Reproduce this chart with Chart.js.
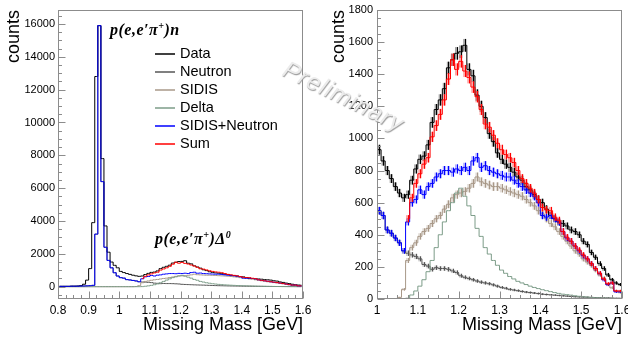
<!DOCTYPE html>
<html>
<head>
<meta charset="utf-8">
<title>Missing mass</title>
<script src="https://cdn.jsdelivr.net/npm/chart.js@4.4.1/dist/chart.umd.min.js"></script>
<style>
  html, body { margin: 0; padding: 0; background: #fff; }
  #page { position: relative; width: 628px; height: 340px; overflow: hidden; }
  #page canvas { position: absolute; top: 0; }
  #leftChart { left: 0; }
  #rightChart { left: 314px; }
  .reaction { position: absolute; font: bold italic 16px "Liberation Serif", serif; white-space: nowrap; line-height: 16px; letter-spacing: 0.5px; }
  .reaction sup { font-size: 10px; vertical-align: 6px; line-height: 0; }
  #legend { position: absolute; left: 155px; top: 44px; font: 14.5px "Liberation Sans", Arial, sans-serif; }
  #legend div { height: 18px; line-height: 18px; white-space: nowrap; }
  #legend span { display: inline-block; width: 20px; height: 0; border-top: 2px solid; vertical-align: middle; margin-right: 5px; opacity: .75; }
  #watermark { position: absolute; left: 291px; top: 55px; font: italic 24px "Liberation Sans", Arial, sans-serif; color: #ececec; letter-spacing: 1px; transform: rotate(26deg); transform-origin: 0 0; text-shadow: 1px 1px 1px #9a9a9a; white-space: nowrap; }
</style>
</head>
<body>
<div id="page">
  <canvas id="leftChart" width="314" height="340"></canvas>
  <canvas id="rightChart" width="314" height="340"></canvas>
  <div class="reaction" style="left:110px; top:22px;">p(e,e′π<sup>+</sup>)n</div>
  <div class="reaction" style="left:155px; top:231px;">p(e,e′π<sup>+</sup>)Δ<sup>0</sup></div>
  <div id="legend"></div>
  <div id="watermark">Preliminary</div>
</div>
<script>
// bin centres, 0.01 GeV bins from 0.8 to 1.6
const mass = [
  0.805, 0.815, 0.825, 0.835, 0.845, 0.855, 0.865, 0.875, 0.885, 0.895,
  0.905, 0.915, 0.925, 0.935, 0.945, 0.955, 0.965, 0.975, 0.985, 0.995,
  1.005, 1.015, 1.025, 1.035, 1.045, 1.055, 1.065, 1.075, 1.085, 1.095,
  1.105, 1.115, 1.125, 1.135, 1.145, 1.155, 1.165, 1.175, 1.185, 1.195,
  1.205, 1.215, 1.225, 1.235, 1.245, 1.255, 1.265, 1.275, 1.285, 1.295,
  1.305, 1.315, 1.325, 1.335, 1.345, 1.355, 1.365, 1.375, 1.385, 1.395,
  1.405, 1.415, 1.425, 1.435, 1.445, 1.455, 1.465, 1.475, 1.485, 1.495,
  1.505, 1.515, 1.525, 1.535, 1.545, 1.555, 1.565, 1.575, 1.585, 1.595
];
const binWidth = 0.01;

const dataCounts = [
  20, 20, 20, 20, 30, 30, 40, 60, 150, 400,
  1100, 3900, 12800, 15900, 7800, 3700, 2100, 1500, 1300, 1150,
  930, 860, 800, 750, 700, 660, 630, 650, 740, 810,
  870, 890, 960, 1100, 1180, 1240, 1310, 1440, 1490, 1530,
  1540, 1580, 1430, 1390, 1270, 1200, 1130, 1030, 980, 910,
  870, 840, 820, 790, 760, 740, 700, 680, 650, 620,
  600, 560, 520, 500, 480, 470, 455, 430, 420, 400,
  360, 340, 290, 260, 220, 190, 150, 120, 100, 90
];
const neutronCounts = [
  20, 20, 20, 20, 30, 30, 30, 40, 40, 50,
  60, 80, 3200, 15900, 6400, 2400, 1600, 1150, 850, 650,
  550, 520, 430, 410, 380, 350, 300, 285, 275, 265,
  250, 215, 205, 185, 195, 190, 190, 185, 175, 165,
  145, 135, 128, 120, 112, 105, 100, 95, 88, 80,
  72, 67, 60, 56, 52, 47, 43, 40, 37, 34,
  30, 28, 26, 24, 22, 20, 18, 16, 14, 13,
  12, 11, 10, 9, 8, 7, 7, 6, 5, 5
];
const sidisCounts = [
  0, 0, 0, 0, 0, 0, 0, 0, 0, 0,
  0, 0, 0, 0, 0, 0, 0, 0, 0, 0,
  0, 0, 0, 0, 0, 10, 60, 240, 320, 350,
  390, 420, 440, 470, 500, 520, 560, 590, 630, 650,
  660, 670, 690, 720, 760, 730, 720, 710, 700, 700,
  690, 680, 670, 660, 650, 640, 620, 600, 580, 550,
  530, 500, 470, 450, 420, 390, 360, 330, 300, 280,
  250, 230, 210, 180, 150, 130, 90, 70, 50, 40
];
const deltaCounts = [
  0, 0, 0, 0, 0, 0, 0, 0, 0, 0,
  0, 0, 0, 0, 0, 0, 0, 0, 0, 0,
  0, 0, 0, 0, 0, 0, 0, 5, 25, 50,
  80, 120, 170, 240, 320, 400, 480, 550, 600, 660,
  690, 640, 580, 520, 440, 390, 320, 280, 240, 210,
  180, 160, 140, 125, 110, 100, 90, 80, 72, 65,
  58, 52, 46, 40, 35, 30, 27, 24, 20, 17,
  14, 12, 10, 8, 7, 6, 5, 4, 3, 3
];
const sidisNeutronCounts = [
  20, 20, 20, 20, 30, 30, 30, 40, 40, 50,
  60, 80, 3200, 15900, 6400, 2400, 1600, 1150, 850, 650,
  550, 520, 430, 410, 380, 350, 300, 480, 600, 620,
  680, 650, 700, 720, 760, 780, 800, 800, 790, 810,
  800, 820, 800, 860, 880, 820, 830, 800, 790, 780,
  770, 760, 760, 740, 720, 700, 680, 660, 640, 600,
  520, 510, 520, 500, 480, 420, 380, 360, 330, 300,
  270, 250, 220, 190, 160, 120, 90, 100, 45, 45
];
const sumCounts = [
  null, null, null, null, null, null, null, null, null, null,
  null, null, null, null, null, null, null, null, null, null,
  null, null, null, null, null, null, null, 500, 630, 720,
  780, 840, 880, 1010, 1080, 1150, 1240, 1370, 1490, 1430,
  1480, 1420, 1380, 1320, 1260, 1180, 1090, 1070, 1020, 970,
  930, 900, 880, 850, 800, 750, 720, 690, 660, 620,
  570, 555, 550, 510, 490, 420, 385, 360, 330, 305,
  275, 250, 220, 190, 160, 125, 95, 100, 50, 50
];

const seriesNames = ['Data', 'Neutron', 'SIDIS', 'Delta', 'SIDIS+Neutron', 'Sum'];
const seriesCounts = [dataCounts, neutronCounts, sidisCounts, deltaCounts, sidisNeutronCounts, sumCounts];
const seriesColors = ['#000000', '#555555', '#a89888', '#7c9c88', '#0000ff', '#ff0000'];
const bandColors = ['rgba(0,0,0,0.35)', 'rgba(85,85,85,0.3)', 'rgba(168,152,136,0.35)', null, 'rgba(0,0,255,0.3)', 'rgba(255,0,0,0.35)'];
const drawOrder = [2, 5, 4, 3, 1, 0];

const leftXTicks = [0.8, 0.9, 1, 1.1, 1.2, 1.3, 1.4, 1.5, 1.6];
const leftYTicks = [0, 2000, 4000, 6000, 8000, 10000, 12000, 14000, 16000];
const rightXTicks = [1, 1.1, 1.2, 1.3, 1.4, 1.5, 1.6];
const rightYTicks = [0, 200, 400, 600, 800, 1000, 1200, 1400, 1600, 1800];

const fontFamily = '"Liberation Sans", Arial, sans-serif';

// legend (html)
const legend = document.getElementById('legend');
seriesNames.forEach((name, i) => {
  const row = document.createElement('div');
  const line = document.createElement('span');
  line.style.borderTopColor = seriesColors[i];
  row.appendChild(line);
  row.appendChild(document.createTextNode(name));
  legend.appendChild(row);
});

// error boxes + bars, drawn just under each histogram line
const errorBars = {
  id: 'errorBars',
  beforeDatasetDraw(chart, args) {
    const ds = chart.data.datasets[args.index];
    if (!ds.band) return;
    const { ctx, chartArea: a, scales: { x, y } } = chart;
    ctx.save();
    ctx.beginPath();
    ctx.rect(a.left, a.top, a.width, a.height);
    ctx.clip();
    ctx.lineWidth = 1;
    ds.data.forEach(p => {
      if (p.y === null || p.y <= 0) return;
      const err = Math.sqrt(p.y); // poisson
      const xl = x.getPixelForValue(p.x - binWidth * 0.4);
      const xr = x.getPixelForValue(p.x + binWidth * 0.4);
      const xc = Math.round(x.getPixelForValue(p.x)) + 0.5;
      const yt = y.getPixelForValue(p.y + err);
      const yb = y.getPixelForValue(p.y - err);
      ctx.fillStyle = ds.band;
      ctx.fillRect(xl, yt, xr - xl, yb - yt);
      ctx.strokeStyle = ds.borderColor;
      ctx.beginPath();
      ctx.moveTo(xc, yt);
      ctx.lineTo(xc, yb);
      ctx.stroke();
    });
    ctx.restore();
  }
};

// ROOT-like frame with inward ticks
const rootAxes = {
  id: 'rootAxes',
  afterDatasetsDraw(chart, args, opts) {
    const { ctx, chartArea: a, scales: { x, y } } = chart;
    ctx.save();
    ctx.strokeStyle = '#8c8c8c';
    ctx.lineWidth = 1;
    const L = Math.round(a.left) + 0.5, R = Math.round(a.right) - 0.5;
    const T = Math.round(a.top) + 0.5, B = Math.round(a.bottom) - 0.5;
    ctx.strokeRect(L, T, R - L, B - T);
    ctx.beginPath();
    const isMajor = (v, step) => Math.abs(v / step - Math.round(v / step)) < 1e-6;
    for (let i = Math.ceil(x.min / opts.xMinor - 1e-6); i * opts.xMinor <= x.max + 1e-9; i++) {
      const v = i * opts.xMinor;
      const px = Math.round(x.getPixelForValue(v)) + 0.5;
      const len = isMajor(v, opts.xMajor) ? 7 : 3.5;
      ctx.moveTo(px, B);
      ctx.lineTo(px, B - len);
    }
    for (let i = Math.ceil(y.min / opts.yMinor - 1e-6); i * opts.yMinor <= y.max + 1e-9; i++) {
      const v = i * opts.yMinor;
      const py = Math.round(y.getPixelForValue(v)) + 0.5;
      const len = isMajor(v, opts.yMajor) ? 7 : 3.5;
      ctx.moveTo(L, py);
      ctx.lineTo(L + len, py);
    }
    ctx.stroke();
    ctx.restore();
  }
};

function makeDatasets(withErrors) {
  return seriesNames.map((name, i) => ({
    label: name,
    data: mass.map((m, j) => ({ x: m, y: seriesCounts[i][j] })),
    borderColor: seriesColors[i],
    borderWidth: 1,
    pointRadius: 0,
    stepped: 'middle',
    fill: false,
    spanGaps: false,
    order: drawOrder[i],
    band: withErrors ? bandColors[i] : null
  }));
}

function drawPanel(id, cfg) {
  return new Chart(document.getElementById(id), {
    type: 'line',
    data: { datasets: makeDatasets(cfg.errors) },
    options: {
      responsive: false,
      animation: false,
      events: [],
      layout: { padding: { left: 0, right: cfg.padRight, top: 10, bottom: 0 } },
      plugins: {
        legend: { display: false },
        tooltip: { enabled: false },
        rootAxes: { xMajor: 0.1, xMinor: 0.025, yMajor: cfg.yMajor, yMinor: cfg.yMinor }
      },
      scales: {
        x: {
          type: 'linear',
          min: cfg.xMin,
          max: 1.6,
          grid: { display: false, drawTicks: false },
          border: { display: false },
          ticks: {
            autoSkip: false, maxRotation: 0, padding: 4, color: '#000',
            font: { family: fontFamily, size: 12 },
            callback: v => String(v)
          },
          afterBuildTicks: s => { s.ticks = cfg.xTicks.map(v => ({ value: v })); },
          afterFit: s => { s.height = 41; s.paddingLeft = 0; s.paddingRight = 0; },
          title: {
            display: true, text: 'Missing Mass [GeV]', align: 'end', color: '#000',
            font: { family: fontFamily, size: 18 }, padding: { top: 0, bottom: 4 }
          }
        },
        y: {
          type: 'linear',
          min: cfg.yMin,
          max: cfg.yMax,
          grid: { display: false, drawTicks: false },
          border: { display: false },
          ticks: {
            autoSkip: false, padding: cfg.yPad, color: '#000',
            font: { family: fontFamily, size: 11 },
            callback: v => String(v)
          },
          afterBuildTicks: s => { s.ticks = cfg.yTicks.map(v => ({ value: v })); },
          afterFit: s => { s.width = cfg.yWidth; s.paddingTop = 0; s.paddingBottom = 0; },
          title: {
            display: true, text: 'counts', align: 'end', color: '#000',
            font: { family: fontFamily, size: 18 }, padding: { top: cfg.titlePad, bottom: 0 }
          }
        }
      }
    },
    plugins: [errorBars, rootAxes]
  });
}

drawPanel('leftChart', {
  errors: false, xMin: 0.8, yMin: -750, yMax: 16850,
  xTicks: leftXTicks, yTicks: leftYTicks, yMajor: 2000, yMinor: 500,
  yWidth: 58, yPad: 3, padRight: 11, titlePad: 3
});
drawPanel('rightChart', {
  errors: true, xMin: 1.0, yMin: 0, yMax: 1800,
  xTicks: rightXTicks, yTicks: rightYTicks, yMajor: 200, yMinor: 50,
  yWidth: 63, yPad: 4, padRight: 6, titlePad: 14
});
</script>
</body>
</html>
